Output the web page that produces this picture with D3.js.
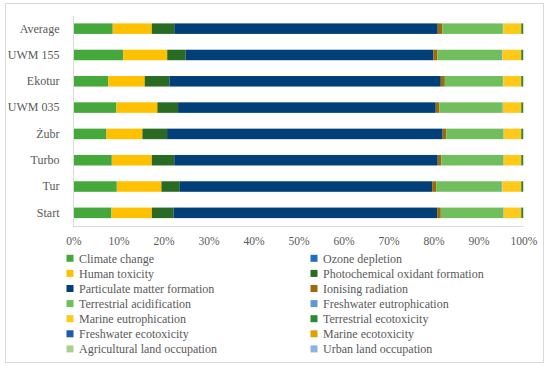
<!DOCTYPE html>
<html><head><meta charset="utf-8">
<script src="https://cdn.jsdelivr.net/npm/d3@7"></script>
<style>
html,body{margin:0;padding:0;background:#fff;}
</style></head>
<body><svg id="c" width="550" height="368"></svg>
<script>
const categories = ["Average","UWM 155","Ekotur","UWM 035","Żubr","Turbo","Tur","Start"];
const seriesNames = ["Climate change","Ozone depletion","Human toxicity","Photochemical oxidant formation","Particulate matter formation","Ionising radiation","Terrestrial acidification","Freshwater eutrophication","Marine eutrophication","Terrestrial ecotoxicity","Freshwater ecotoxicity","Marine ecotoxicity","Agricultural land occupation","Urban land occupation"];
const seriesColors = ["#45a83a","#1f6fc0","#ffc000","#2a6b24","#013f78","#9c6a0a","#70bf5c","#5b9bd5","#ffc91a","#2e8a2e","#1f5aa8","#e0a000","#a9d18e","#8cb4e2"];
// values per series, in category order
const climateChange   = [8.7, 11.0, 7.7, 9.5, 7.3, 8.5, 9.6, 8.4];
const ozoneDepletion  = [0.05,0.05,0.05,0.05,0.05,0.05,0.05,0.05];
const humanToxicity   = [8.7, 9.8, 8.1, 9.1, 8.0, 8.9, 9.9, 9.0];
const photochemical   = [5.0, 4.1, 5.5, 4.6, 5.5, 5.0, 4.1, 4.8];
const particulate     = [58.7,55.1,60.4,57.3,61.4,58.7,56.1,58.7];
const ionising        = [1.0, 0.9, 0.9, 0.8, 0.8, 0.8, 0.9, 0.8];
const terrAcid        = [13.5,14.2,12.9,13.9,12.7,13.8,14.5,13.9];
const freshEutro      = [0.1, 0.25,0.1, 0.2, 0.1, 0.1, 0.2, 0.1];
const marineEutro     = [4.0, 4.2, 4.0, 4.1, 3.9, 3.9, 4.2, 3.9];
const terrEcotox      = [0.4, 0.4, 0.4, 0.4, 0.4, 0.4, 0.4, 0.4];
const freshEcotox     = [0.03,0.03,0.03,0.03,0.03,0.03,0.03,0.03];
const marineEcotox    = [0.03,0.03,0.03,0.03,0.03,0.03,0.03,0.03];
const agriLand        = [0.03,0.03,0.03,0.03,0.03,0.03,0.03,0.03];
const urbanLand       = [0.02,0.02,0.02,0.02,0.02,0.02,0.02,0.02];
const seriesValues = [climateChange,ozoneDepletion,humanToxicity,photochemical,particulate,ionising,terrAcid,freshEutro,marineEutro,terrEcotox,freshEcotox,marineEcotox,agriLand,urbanLand];
const tickValues = [0,0.1,0.2,0.3,0.4,0.5,0.6,0.7,0.8,0.9,1.0];

const FONT = "Liberation Serif";
const TXT = "#595959";

const rows = categories.map((c,i)=>{const o={cat:c}; seriesNames.forEach((s,j)=>o[s]=seriesValues[j][i]); return o;});
const stack = d3.stack().keys(seriesNames).offset(d3.stackOffsetExpand)(rows);

const svg = d3.select("#c");
svg.append("rect").attr("x",5.5).attr("y",3.5).attr("width",538).attr("height",359)
  .attr("fill","none").attr("stroke","#d9d9d9");

const x = d3.scaleLinear().domain([0,1]).range([73.5,523.5]);
const y = d3.scaleBand().domain(categories).range([15.5,226]).paddingInner(0.6).paddingOuter(0.3);

svg.append("g").selectAll("g").data(stack).join("g")
  .attr("fill",(d,i)=>seriesColors[i])
  .selectAll("rect").data(d=>d).join("rect")
  .attr("x",d=>x(d[0])).attr("width",d=>Math.max(0,x(d[1])-x(d[0])))
  .attr("y",d=>y(d.data.cat)).attr("height",y.bandwidth());

svg.append("line").attr("x1",73.5).attr("x2",73.5).attr("y1",16).attr("y2",226.5).attr("stroke","#d9d9d9");
svg.append("line").attr("x1",73).attr("x2",523.5).attr("y1",226.5).attr("y2",226.5).attr("stroke","#d9d9d9");

const yAxis = svg.append("g").attr("transform","translate(73.5,0)")
  .call(d3.axisLeft(y).tickSize(0).tickPadding(14));
yAxis.select(".domain").remove();
yAxis.attr("font-family",FONT);
yAxis.selectAll("text").attr("font-family",FONT).attr("font-size",12).attr("fill",TXT);

const xAxis = svg.append("g").attr("transform","translate(0,226.5)")
  .call(d3.axisBottom(x).tickValues(tickValues).tickFormat(d3.format(".0%")).tickSize(0).tickPadding(10));
xAxis.select(".domain").remove();
xAxis.attr("font-family",FONT);
xAxis.selectAll("text").attr("font-family",FONT).attr("font-size",11.5).attr("fill",TXT);

const leg = svg.append("g").attr("font-family",FONT);
seriesNames.forEach((s,i)=>{
  const col = i%2, row = Math.floor(i/2);
  const gx = col===0 ? 66.5 : 310.5;
  const gy = 258.3 + row*15.1;
  leg.append("rect").attr("x",gx).attr("y",gy-3.5).attr("width",7).attr("height",7).attr("fill",seriesColors[i]);
  leg.append("text").attr("x",gx+12.5).attr("y",gy).attr("dy","0.35em")
    .attr("font-family",FONT).attr("font-size",12).attr("fill",TXT).text(s);
});
</script></body></html>
